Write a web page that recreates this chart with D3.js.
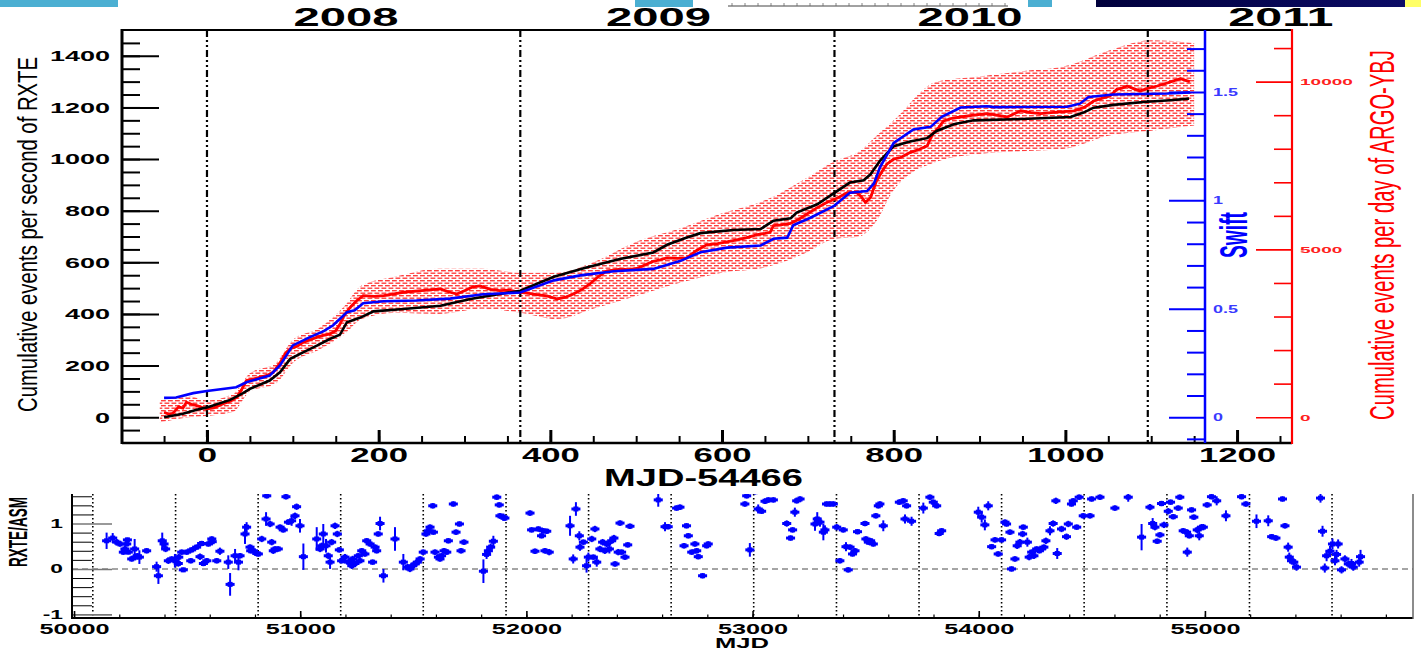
<!DOCTYPE html>
<html>
<head>
<meta charset="utf-8">
<script src="https://cdn.jsdelivr.net/npm/d3@7.9.0/dist/d3.min.js"></script>
<style>
  body { margin: 0; background: #fff; }
  svg { display: block; }
  text { font-family: "Liberation Sans", Arial, Helvetica, sans-serif; }
</style>
</head>
<body>
<svg id="chart" width="1428" height="650"></svg>
<script>
// ---------- data: top panel (x = MJD-54466) ----------
const rxteDays = [-50,-28,-12,0,27,42,50,73,85,97,112,128,143,155,163,178,194,229,272,307,341,365,404,442,481,520,536,559,575,613,645,660,680,687,711,730,749,765,773,784,800,819,839,850,870,893,940,1006,1021,1033,1056,1091,1122,1144];
const rxteCum = [0,13,29,38,67,93,110,142,174,226,251,277,303,320,368,385,410,419,432,458,477,490,544,580,613,638,668,696,713,725,729,761,771,793,825,867,909,918,941,993,1050,1068,1081,1109,1135,1150,1154,1163,1180,1199,1210,1221,1228,1234];

const swiftDays = [-50,-36,-16,0,34,46,73,85,100,120,136,147,163,172,182,206,244,283,322,365,404,435,474,520,551,575,606,645,660,676,683,703,730,749,769,777,784,800,823,843,856,878,909,917,1002,1017,1027,1056,1119,1145];
const swiftCum = [0.089,0.091,0.111,0.121,0.138,0.161,0.192,0.239,0.331,0.369,0.397,0.424,0.484,0.493,0.526,0.535,0.538,0.547,0.567,0.575,0.631,0.654,0.673,0.684,0.720,0.761,0.782,0.792,0.823,0.828,0.885,0.920,0.973,1.035,1.043,1.078,1.152,1.265,1.327,1.339,1.385,1.428,1.434,1.430,1.432,1.446,1.477,1.488,1.493,1.498];

const argoDays = [-50,-45,-40,-33,-28,-24,-18,-12,-6,0,8,19,27,35,40,46,54,62,70,77,85,92,97,105,112,120,128,136,143,150,155,160,167,174,182,195,206,218,229,250,272,282,291,300,310,318,330,341,352,365,375,384,396,408,418,427,437,446,456,466,474,481,491,501,510,520,528,536,548,559,570,582,595,613,628,641,650,656,660,668,680,690,699,710,722,735,746,757,762,767,773,780,786,792,800,808,819,830,839,843,846,852,858,868,878,893,909,920,932,940,948,960,971,990,1010,1022,1033,1045,1052,1060,1066,1072,1080,1087,1097,1107,1116,1126,1134,1140,1145];
const argoCum = [146,92,115,308,269,446,385,346,292,246,277,400,477,592,808,1092,1138,1192,1246,1338,1615,1923,2038,2115,2231,2308,2377,2446,2477,2577,2777,3038,3277,3462,3623,3600,3623,3677,3723,3769,3823,3731,3669,3769,3885,3915,3808,3769,3785,3723,3692,3654,3615,3523,3577,3669,3808,3969,4192,4362,4385,4415,4400,4431,4538,4646,4692,4746,4731,4746,4962,5138,5169,5262,5346,5438,5477,5508,5708,5731,5777,5908,6054,6231,6400,6538,6692,6692,6577,6400,6546,7046,7308,7538,7692,7738,7885,7985,8085,8308,8462,8615,8831,8908,8946,9000,9046,9000,8946,9038,9131,9077,9046,9092,9131,9231,9423,9523,9569,9769,9808,9869,9785,9723,9808,9869,9938,10023,10085,10038,10000];

const argoBandDays = [-55,-20,0,30,50,80,100,130,160,180,220,270,320,365,408,450,500,550,600,650,700,730,760,780,800,850,900,950,1000,1050,1100,1150];
const argoBandHi = [538,615,500,692,1308,1615,2308,2654,3308,3923,4192,4423,4423,4308,4308,4615,5231,5615,6077,6462,7154,7615,7923,8385,8846,10000,10154,10308,10462,10923,11231,11154];
const argoBandLo = [-154,0,38,154,769,1000,1615,2000,2462,2923,3115,3077,3231,3115,2923,3231,3615,4000,4308,4462,4923,5308,5385,5846,6769,7615,7846,7923,8000,8385,8538,8692];

const yearStartDays = [0, 365, 731, 1096];
const yearLabels = ['2008', '2009', '2010', '2011'];
const yearLabelDays = [162, 526, 889, 1251];

// ---------- data: bottom panel RXTE/ASM ratio [MJD, ratio, error] ----------
const asmPoints = [
[50144,0.62,0.18],[50171,0.68,0.11],[50189,0.59,0.07],[50203,0.55,0.06],[50218,0.37,0.06],[50225,0.44,0.07],[50233,0.55,0.05],[50236,0.64,0.05],[50240,0.37,0.05],[50255,0.22,0.06],[50268,0.44,0.22],[50270,0.26,0.06],[50280,0.29,0.06],[50289,0.26,0.15],[50321,0.40,0.06],[50365,0.05,0.11],[50373,-0.15,0.18],[50390,0.62,0.18],[50398,0.55,0.07],[50405,0.44,0.07],[50417,0.18,0.07],[50432,0.22,0.06],[50446,0.18,0.15],[50461,0.12,0.07],[50463,0.26,0.07],[50476,0.37,0.06],[50483,-0.02,0.05],[50498,0.37,0.06],[50516,0.18,0.06],[50520,0.42,0.06],[50542,0.48,0.06],[50557,0.27,0.07],[50564,0.56,0.06],[50572,0.12,0.06],[50587,0.18,0.06],[50594,0.55,0.06],[50609,0.66,0.06],[50611,0.60,0.06],[50631,0.18,0.06],[50645,0.39,0.08],[50682,0.15,0.15],[50690,-0.34,0.25],[50712,0.29,0.15],[50727,0.15,0.18],[50734,0.29,0.06],[50756,0.77,0.22],[50763,0.92,0.11],[50778,0.48,0.06],[50781,0.40,0.06],[50793,0.40,0.06],[50808,0.34,0.06],[50815,0.33,0.06],[50830,0.66,0.07],[50849,1.10,0.15],[50852,1.61,0.06],[50867,0.99,0.07],[50874,0.59,0.07],[50881,0.40,0.07],[50889,0.44,0.06],[50903,0.44,0.06],[50911,0.92,0.06],[50925,0.86,0.06],[50937,1.59,0.06],[50948,1.03,0.06],[50962,1.06,0.11],[50977,1.17,0.07],[50984,1.37,0.07],[50999,0.95,0.15],[51014,0.27,0.29],
[51073,0.66,0.26],[51088,0.44,0.07],[51095,0.51,0.07],[51102,0.77,0.22],[51114,0.51,0.15],[51124,0.29,0.07],[51132,0.15,0.15],[51139,0.59,0.07],[51154,0.95,0.07],[51164,0.77,0.07],[51173,0.42,0.06],[51183,0.18,0.06],[51198,0.26,0.07],[51213,0.15,0.07],[51228,0.07,0.07],[51232,0.22,0.07],[51242,0.12,0.06],[51257,0.29,0.06],[51264,0.18,0.06],[51272,0.40,0.06],[51286,0.33,0.06],[51294,0.62,0.06],[51309,0.55,0.06],[51320,0.15,0.06],[51331,0.48,0.06],[51338,0.40,0.06],[51345,0.77,0.06],[51353,1.00,0.15],[51368,-0.15,0.15],[51419,0.66,0.26],[51456,0.15,0.18],[51474,0.04,0.07],[51485,0.00,0.07],[51497,0.07,0.07],[51508,0.11,0.07],[51518,0.15,0.06],[51530,0.22,0.06],[51544,0.37,0.06],[51556,0.77,0.06],[51566,0.84,0.06],[51574,0.92,0.06],[51586,1.39,0.06],[51589,0.81,0.06],[51596,0.37,0.06],[51611,0.26,0.06],[51618,0.22,0.06],[51625,0.29,0.06],[51636,0.40,0.06],[51648,0.37,0.06],[51655,0.62,0.06],[51677,1.43,0.06],[51689,0.81,0.06],[51704,0.99,0.06],[51711,0.40,0.06],[51724,0.59,0.06],
[51810,-0.05,0.26],[51824,0.32,0.10],[51832,0.40,0.08],[51842,0.48,0.08],[51854,0.61,0.12],[51869,1.58,0.06],[51880,1.41,0.06],[51883,1.17,0.06],[51898,1.14,0.08],[51905,1.12,0.06],[52016,1.23,0.06],[52023,0.86,0.06],[52038,0.39,0.06],[52053,0.88,0.06],[52067,0.73,0.06],[52075,0.84,0.06],[52082,0.40,0.06],[52090,0.83,0.06],[52101,0.37,0.07],[52193,0.95,0.22],[52207,0.22,0.10],[52219,1.32,0.15],[52234,0.73,0.10],[52237,0.48,0.08],[52252,0.59,0.06],[52266,0.07,0.15],[52274,0.26,0.10],[52289,0.66,0.07],[52296,0.26,0.06],[52303,0.88,0.07],[52311,0.15,0.10],[52325,0.44,0.07],[52337,0.59,0.07],[52347,0.40,0.07],[52355,0.55,0.07],[52367,0.44,0.10],[52377,0.62,0.07],[52387,0.68,0.07],[52392,0.11,0.06],[52406,0.37,0.07],[52414,1.01,0.06],[52421,0.37,0.06],[52436,0.26,0.06],[52448,0.53,0.06],[52458,0.94,0.06],[52465,1.75,0.06],[52583,1.52,0.15],[52613,0.93,0.10],[52627,0.93,0.06],[52664,1.34,0.06],[52679,1.36,0.06],[52697,0.51,0.06],[52708,0.95,0.06],[52716,0.73,0.06],[52731,0.37,0.06],[52745,0.55,0.06],[52753,0.40,0.06],[52760,0.27,0.06],[52779,-0.15,0.06],[52797,0.51,0.06],[52804,0.55,0.06],[52966,1.43,0.06],[52974,1.61,0.06],[52988,0.42,0.15],[53011,1.70,0.06],[53025,1.32,0.10],[53040,1.27,0.06],[53055,1.49,0.06],[53070,1.52,0.06],[53092,1.52,0.06],[53151,1.00,0.07],[53168,0.68,0.06],[53177,0.86,0.06],[53187,1.25,0.10],[53195,1.50,0.06],[53210,1.54,0.06],[53276,0.99,0.15],[53286,1.10,0.15],[53298,1.03,0.10],[53313,0.81,0.18],[53320,0.86,0.10],[53327,1.43,0.06],[53342,1.43,0.06],[53357,1.43,0.06],[53372,0.92,0.07],[53386,0.18,0.06],[53401,0.86,0.06],[53413,0.49,0.10],[53423,-0.02,0.06],[53431,0.48,0.06],[53442,0.33,0.06],[53453,0.40,0.06],[53464,0.82,0.06],[53497,1.00,0.06],[53501,0.66,0.06],[53512,0.59,0.06],[53522,0.62,0.06],[53534,0.55,0.06],[53545,1.17,0.06],[53556,1.39,0.06],[53563,1.43,0.06],[53578,0.95,0.12],[53649,1.47,0.06],[53666,1.50,0.06],[53674,1.10,0.10],[53681,1.39,0.06],[53703,1.05,0.10],[53755,1.34,0.12],[53784,1.58,0.06],[53799,1.47,0.06],[53814,1.39,0.06],[53825,0.78,0.06],[53836,0.84,0.06],
[53998,1.25,0.12],[54013,1.14,0.12],[54027,0.97,0.12],[54042,1.39,0.10],[54057,0.49,0.06],[54072,0.64,0.06],[54086,0.33,0.06],[54101,0.64,0.06],[54116,1.03,0.06],[54123,0.99,0.06],[54138,0.81,0.06],[54145,0.00,0.06],[54160,0.22,0.06],[54170,0.51,0.07],[54182,0.59,0.07],[54194,0.77,0.07],[54197,0.92,0.06],[54215,0.59,0.10],[54223,0.26,0.07],[54234,0.37,0.06],[54244,0.29,0.07],[54256,0.44,0.06],[54268,0.40,0.06],[54278,0.44,0.06],[54288,0.48,0.06],[54297,0.62,0.07],[54315,0.84,0.10],[54329,1.00,0.07],[54341,1.50,0.07],[54347,0.34,0.12],[54366,0.88,0.07],[54388,0.71,0.07],[54396,0.99,0.07],[54410,1.43,0.06],[54418,1.50,0.06],[54433,0.92,0.06],[54444,1.58,0.06],[54462,1.17,0.06],[54492,1.17,0.06],[54499,1.54,0.06],[54536,1.58,0.06],[54602,1.34,0.06],[54661,1.58,0.10],[54720,0.70,0.29],[54757,1.36,0.07],[54769,1.00,0.12],[54779,0.92,0.07],[54789,0.61,0.06],[54801,0.75,0.06],[54808,1.44,0.06],[54819,0.97,0.07],[54838,1.27,0.07],[54848,1.47,0.06],[54860,1.15,0.06],[54882,1.34,0.06],[54889,1.58,0.06],[54904,0.84,0.06],[54919,0.81,0.06],[54922,0.37,0.10],[54931,0.73,0.06],[54941,1.30,0.06],[54951,1.14,0.06],[54966,0.86,0.07],[54975,0.73,0.10],[54985,0.92,0.07],[54993,0.92,0.07],[55010,1.41,0.06],[55029,1.59,0.06],[55052,1.50,0.10],[55093,1.17,0.12],[55162,1.59,0.06],[55181,1.43,0.06],[55228,1.05,0.15],[55280,1.06,0.12],[55295,0.71,0.06],[55314,0.68,0.06],[55343,1.54,0.06],[55354,0.95,0.06],[55368,0.48,0.10],[55373,0.26,0.10],[55383,0.18,0.08],[55393,0.15,0.08],[55405,0.04,0.08],[55511,1.56,0.10],[55520,0.83,0.12],[55530,0.02,0.10],[55538,0.29,0.12],[55553,0.39,0.12],[55564,0.55,0.12],[55575,0.18,0.10],[55582,0.32,0.10],[55589,0.55,0.10],[55604,-0.02,0.08],[55619,0.22,0.08],[55634,0.11,0.08],[55648,0.12,0.10],[55656,0.04,0.08],[55682,0.15,0.10],[55688,0.27,0.15]
];
const asmBinHalf = 20;   // days
const asmYearMjd = [50083,50449,50814,51179,51544,51910,52275,52640,53005,53371,53736,54101,54466,54832,55197,55562];

// ---------- setup ----------
const svg = d3.select('#chart');
const FONT = '"Liberation Sans", Arial, Helvetica, sans-serif';
const plain = d => String(d).replace('\u2212', '-');

// stretch text horizontally (the original figure is widened)
function stretch(sel, sx) {
  sel.each(function () {
    const w = this.getComputedTextLength();
    d3.select(this).attr('textLength', w * sx).attr('lengthAdjust', 'spacingAndGlyphs');
  });
}
function styleAxis(g, size, bold, sx) {
  g.attr('font-family', FONT).attr('font-size', size).attr('font-weight', bold ? 'bold' : 'normal');
  g.select('.domain').remove();
  stretch(g.selectAll('text'), sx);
}

// ---------- top strip remnants ----------
const defs = svg.append('defs');
const strip = svg.append('g');
strip.append('rect').attr('x', 0).attr('y', 0).attr('width', 118).attr('height', 7).attr('fill', '#4bafd2');
strip.append('rect').attr('x', 635).attr('y', 0).attr('width', 58).attr('height', 7).attr('fill', '#4bafd2');
strip.append('rect').attr('x', 1028).attr('y', 0).attr('width', 24).attr('height', 7).attr('fill', '#4bafd2');
const grad = defs.append('linearGradient').attr('id', 'navy');
grad.append('stop').attr('offset', '0%').attr('stop-color', '#00003c');
grad.append('stop').attr('offset', '100%').attr('stop-color', '#0c0c66');
strip.append('rect').attr('x', 1096).attr('y', 0).attr('width', 309).attr('height', 7).attr('fill', 'url(#navy)');
strip.append('rect').attr('x', 1405).attr('y', 0).attr('width', 16).attr('height', 7).attr('fill', '#ffff66');
strip.append('line').attr('x1', 728).attr('x2', 1008).attr('y1', 6).attr('y2', 6).attr('stroke', '#444').attr('stroke-width', 1);
strip.append('g').selectAll('line').data(d3.range(732, 1008, 13)).join('line')
  .attr('x1', d => d).attr('x2', d => d).attr('y1', 3).attr('y2', 6).attr('stroke', '#666').attr('stroke-width', 0.8);

// ---------- top panel scales ----------
const xTop = d3.scaleLinear().domain([-99, 1264]).range([122, 1292]);
const yLeft = d3.scaleLinear().domain([-100, 1500]).range([443, 30]);
const ySwift = d3.scaleLinear().domain([-100 / 840, 1500 / 840]).range([443, 30]);
const yArgo = d3.scaleLinear().domain([-100 * 10000 / 1300, 1500 * 10000 / 1300]).range([443, 30]);

// hatched error band pattern
const pat = defs.append('pattern').attr('id', 'hatch').attr('patternUnits', 'userSpaceOnUse')
  .attr('width', 7).attr('height', 5);
pat.append('rect').attr('x', 0).attr('y', 0).attr('width', 4.8).attr('height', 1.4).attr('fill', '#ff1a1a').attr('opacity', 0.85);
pat.append('rect').attr('x', 3.5).attr('y', 2.5).attr('width', 4.8).attr('height', 1.4).attr('fill', '#ff1a1a').attr('opacity', 0.85);
pat.append('rect').attr('x', -3.5).attr('y', 2.5).attr('width', 4.8).attr('height', 1.4).attr('fill', '#ff1a1a').attr('opacity', 0.85);

const band = argoBandDays.map((d, i) => ({ d, lo: argoBandLo[i], hi: argoBandHi[i] }));
svg.append('path').datum(band)
  .attr('fill', 'url(#hatch)')
  .attr('d', d3.area().curve(d3.curveMonotoneX).x(p => xTop(p.d)).y0(p => yArgo(p.lo)).y1(p => yArgo(p.hi)));

// year separators (dash-dot)
svg.append('g').selectAll('line').data(yearStartDays).join('line')
  .attr('x1', d => xTop(d)).attr('x2', d => xTop(d)).attr('y1', 30).attr('y2', 443)
  .attr('stroke', '#000').attr('stroke-width', 2.2).attr('stroke-dasharray', '7,3,2,3,2,3');

// series lines
const lineTop = (xs, ys, yScale) => d3.line().x((_, i) => xTop(xs[i])).y(v => yScale(v))(ys);
svg.append('path').attr('d', lineTop(argoDays, argoCum, yArgo)).attr('fill', 'none').attr('stroke', '#ff0000').attr('stroke-width', 2.8);
svg.append('path').attr('d', lineTop(rxteDays, rxteCum, yLeft)).attr('fill', 'none').attr('stroke', '#000').attr('stroke-width', 2.6);
svg.append('path').attr('d', lineTop(swiftDays, swiftCum, ySwift)).attr('fill', 'none').attr('stroke', '#0000ff').attr('stroke-width', 2.6);

// left axis
const gLeft = svg.append('g').attr('transform', 'translate(122,0)');
gLeft.append('g').call(d3.axisLeft(yLeft).tickValues(d3.range(-50, 1451, 50)).tickSize(-18).tickFormat(''))
  .call(g => g.select('.domain').remove()).selectAll('line').attr('stroke-width', 2);
const gLeftMaj = gLeft.append('g').call(d3.axisLeft(yLeft).tickValues(d3.range(0, 1401, 200)).tickSize(-37).tickPadding(12).tickFormat(plain));
gLeftMaj.selectAll('line').attr('stroke-width', 2);
styleAxis(gLeftMaj, 15, true, 1.8);

// bottom axis
const gBot = svg.append('g').attr('transform', 'translate(0,443)');
gBot.append('g').call(d3.axisBottom(xTop).tickValues(d3.range(-50, 1251, 50)).tickSize(-7).tickFormat(''))
  .call(g => g.select('.domain').remove()).selectAll('line').attr('stroke-width', 2);
const gBotMaj = gBot.append('g').call(d3.axisBottom(xTop).tickValues(d3.range(0, 1201, 200)).tickSize(-13).tickPadding(5).tickFormat(plain));
gBotMaj.selectAll('line').attr('stroke-width', 3);
styleAxis(gBotMaj, 19.5, true, 1.78);

// frame
svg.append('line').attr('x1', 122).attr('x2', 122).attr('y1', 29).attr('y2', 444).attr('stroke', '#000').attr('stroke-width', 3);
svg.append('line').attr('x1', 122).attr('x2', 1292).attr('y1', 30).attr('y2', 30).attr('stroke', '#000').attr('stroke-width', 2);
svg.append('line').attr('x1', 122).attr('x2', 1292).attr('y1', 443).attr('y2', 443).attr('stroke', '#000').attr('stroke-width', 2.5);

// Swift axis
const gSwift = svg.append('g').attr('transform', 'translate(1205,0)').attr('color', '#0000ff');
gSwift.append('g').call(d3.axisRight(ySwift).tickValues([-0.1,0.1,0.2,0.3,0.4,0.6,0.7,0.8,0.9,1.1,1.2,1.3,1.4,1.6,1.7]).tickSize(-18).tickFormat(''))
  .call(g => g.select('.domain').remove()).selectAll('line').attr('stroke-width', 2);
const gSwiftMaj = gSwift.append('g').call(d3.axisRight(ySwift).tickValues([0, 0.5, 1, 1.5]).tickSize(-36).tickPadding(8).tickFormat(plain));
gSwiftMaj.selectAll('line').attr('stroke-width', 2);
gSwiftMaj.selectAll('text').attr('fill', '#3a3aff');
styleAxis(gSwiftMaj, 11, true, 1.63);
gSwift.append('line').attr('y1', 30).attr('y2', 443).attr('stroke', '#0000ff').attr('stroke-width', 2.5);

// ARGO axis
const gArgo = svg.append('g').attr('transform', 'translate(1292,0)').attr('color', '#ff0000');
gArgo.append('g').call(d3.axisRight(yArgo).tickValues([1000,2000,3000,4000,6000,7000,8000,9000,11000]).tickSize(-18).tickFormat(''))
  .call(g => g.select('.domain').remove()).selectAll('line').attr('stroke-width', 1.6);
const gArgoMaj = gArgo.append('g').call(d3.axisRight(yArgo).tickValues([0, 5000, 10000]).tickSize(-36).tickPadding(8).tickFormat(plain));
gArgoMaj.selectAll('line').attr('stroke-width', 1.6);
gArgoMaj.selectAll('text').attr('fill', '#ff2020');
styleAxis(gArgoMaj, 9.5, true, 2.0);
gArgo.append('line').attr('y1', 29).attr('y2', 444).attr('stroke', '#ff0000').attr('stroke-width', 2.2);

// vertical titles: squeeze along the text direction with a scale transform
function vText(x, y, str, size, weight, len, color) {
  const t = svg.append('text').attr('text-anchor', 'middle').attr('font-size', size)
    .attr('font-weight', weight).attr('fill', color).text(str);
  const k = len / t.node().getComputedTextLength();
  t.attr('transform', `translate(${x},${y}) rotate(-90) scale(${k},1)`);
}
vText(37, 234.5, 'Cumulative events per second of RXTE', 28, 'normal', 355, '#000');
vText(1247, 235, 'Swift', 38, 'bold', 46, '#0000ff');
vText(1394, 235, 'Cumulative events per day of ARGO-YBJ', 35, 'normal', 370, '#ff0000');

svg.append('text').attr('x', 703.5).attr('y', 486).attr('text-anchor', 'middle')
  .attr('font-size', 23).attr('font-weight', 'bold').attr('textLength', 199).attr('lengthAdjust', 'spacingAndGlyphs')
  .text('MJD-54466');

svg.append('g').selectAll('text').data(yearLabels).join('text')
  .attr('x', (_, i) => xTop(yearLabelDays[i])).attr('y', 26).attr('text-anchor', 'middle')
  .attr('font-size', 26).attr('font-weight', 'bold').attr('textLength', 105).attr('lengthAdjust', 'spacingAndGlyphs')
  .text(d => d);

// ---------- bottom panel ----------
const xAsm = d3.scaleLinear().domain([49991, 55920]).range([72, 1413]);
const yAsm = d3.scaleLinear().domain([-1.08, 1.65]).range([618, 494]);

defs.append('clipPath').attr('id', 'clipAsm').append('rect')
  .attr('x', 72).attr('y', 494).attr('width', 1341).attr('height', 124);

// zero line
svg.append('line').attr('x1', 72).attr('x2', 1413).attr('y1', yAsm(0)).attr('y2', yAsm(0))
  .attr('stroke', '#888').attr('stroke-width', 1.6).attr('stroke-dasharray', '6,4');

// yearly dotted lines
svg.append('g').selectAll('line').data(asmYearMjd).join('line')
  .attr('x1', d => xAsm(d)).attr('x2', d => xAsm(d)).attr('y1', 494).attr('y2', 618)
  .attr('stroke', '#000').attr('stroke-width', 1.6).attr('stroke-dasharray', '1.6,2.4');

// ASM crosses
const asmG = svg.append('g').attr('clip-path', 'url(#clipAsm)').attr('stroke', '#0000ff').attr('fill', '#0000ff');
asmG.selectAll('g').data(asmPoints).join('g').each(function ([m, r, e]) {
  const g = d3.select(this);
  g.append('line').attr('x1', xAsm(m - asmBinHalf)).attr('x2', xAsm(m + asmBinHalf))
    .attr('y1', yAsm(r)).attr('y2', yAsm(r)).attr('stroke-width', 3);
  g.append('line').attr('x1', xAsm(m)).attr('x2', xAsm(m))
    .attr('y1', yAsm(r - e)).attr('y2', yAsm(r + e)).attr('stroke-width', 2);
  g.append('rect').attr('x', xAsm(m) - 2.5).attr('y', yAsm(r) - 2.5).attr('width', 5).attr('height', 5).attr('stroke', 'none');
});

// ASM y axis
const gAsmY = svg.append('g').attr('transform', 'translate(72,0)');
gAsmY.append('g').call(d3.axisLeft(yAsm).tickValues([-0.8,-0.6,-0.4,-0.2,0.2,0.4,0.6,0.8,1.2,1.4,1.6]).tickSize(-20).tickFormat(''))
  .call(g => g.select('.domain').remove()).selectAll('line').attr('stroke-width', 1);
const gAsmYMaj = gAsmY.append('g').call(d3.axisLeft(yAsm).tickValues([-1, 0, 1]).tickSize(-40).tickPadding(9).tickFormat(plain));
gAsmYMaj.selectAll('line').attr('stroke', '#777').attr('stroke-width', 1.6);
styleAxis(gAsmYMaj, 13, true, 1.75);
gAsmYMaj.selectAll('text').attr('dy', '0.3em');

// ASM x axis
const gAsmX = svg.append('g').attr('transform', 'translate(0,618)');
gAsmX.append('g').call(d3.axisBottom(xAsm).tickValues(d3.range(50000, 55801, 200)).tickSize(-3.5).tickFormat(''))
  .call(g => g.select('.domain').remove()).selectAll('line').attr('stroke-width', 1.2);
const gAsmXMaj = gAsmX.append('g').call(d3.axisBottom(xAsm).tickValues(d3.range(50000, 55001, 1000)).tickSize(-7).tickPadding(5).tickFormat(plain));
gAsmXMaj.selectAll('line').attr('stroke-width', 1.6);
styleAxis(gAsmXMaj, 15, true, 1.68);

// ASM frame (left, bottom, right)
svg.append('line').attr('x1', 72).attr('x2', 72).attr('y1', 494).attr('y2', 619).attr('stroke', '#000').attr('stroke-width', 2);
svg.append('line').attr('x1', 72).attr('x2', 1413).attr('y1', 618).attr('y2', 618).attr('stroke', '#000').attr('stroke-width', 2);
svg.append('line').attr('x1', 1413).attr('x2', 1413).attr('y1', 494).attr('y2', 619).attr('stroke', '#666').attr('stroke-width', 1.5);

vText(26.5, 532, 'RXTE/ASM', 25, 'bold', 70, '#000');
svg.append('text').attr('x', 742).attr('y', 648).attr('text-anchor', 'middle')
  .attr('font-size', 14).attr('font-weight', 'bold').attr('textLength', 54).attr('lengthAdjust', 'spacingAndGlyphs')
  .text('MJD');
</script>
</body>
</html>
